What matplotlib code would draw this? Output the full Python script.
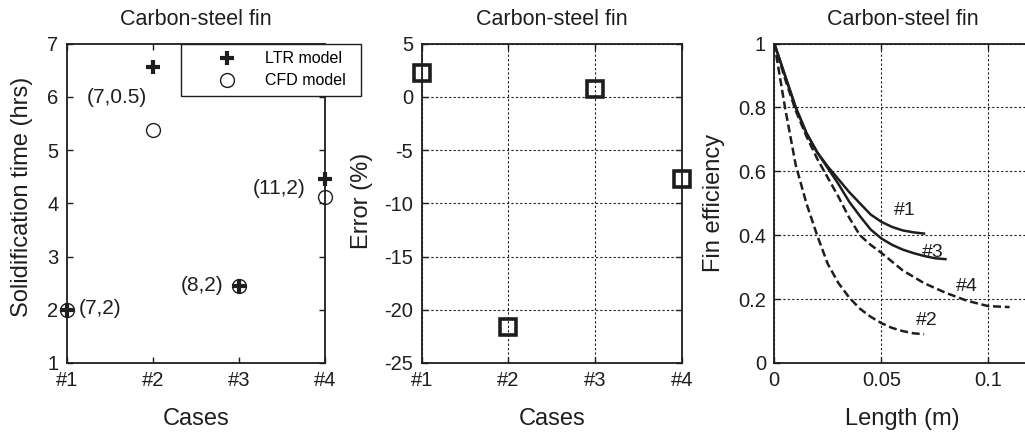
import matplotlib
matplotlib.use('Agg')
import matplotlib.pyplot as plt
from matplotlib.ticker import FormatStrFormatter
import numpy as np

plt.rcParams['font.family'] = ['Liberation Sans', 'DejaVu Sans']
plt.rcParams['axes.unicode_minus'] = False

# Data
cases = [1, 2, 3, 4]
case_labels = ['#1', '#2', '#3', '#4']
ltr_time = [2.0, 6.55, 2.45, 4.45]   # hrs
cfd_time = [2.0, 5.38, 2.45, 4.12]   # hrs
error_pct = [2.2, -21.6, 0.7, -7.7]  # %
case_params = ['(7,2)', '(7,0.5)', '(8,2)', '(11,2)']
param_xy = [(1.39, 2.03), (1.58, 5.99), (2.57, 2.46), (3.47, 4.28)]

# Fin efficiency curves
len1 = [0, 0.005, 0.01, 0.015, 0.02, 0.025, 0.03, 0.035, 0.04, 0.045, 0.05, 0.055, 0.06, 0.065, 0.07]
eff1 = [1.0, 0.90, 0.80, 0.72, 0.66, 0.615, 0.575, 0.535, 0.50, 0.465, 0.442, 0.426, 0.415, 0.409, 0.405]
len2 = [0, 0.005, 0.01, 0.015, 0.02, 0.025, 0.03, 0.035, 0.04, 0.045, 0.05, 0.055, 0.06, 0.065, 0.07]
eff2 = [1.0, 0.80, 0.62, 0.50, 0.40, 0.31, 0.25, 0.205, 0.17, 0.145, 0.125, 0.11, 0.10, 0.093, 0.09]
len3 = [0, 0.005, 0.01, 0.015, 0.02, 0.025, 0.03, 0.035, 0.04, 0.045, 0.05, 0.055, 0.06, 0.065, 0.07, 0.075, 0.08]
eff3 = [1.0, 0.90, 0.80, 0.72, 0.66, 0.61, 0.56, 0.505, 0.46, 0.418, 0.39, 0.37, 0.355, 0.344, 0.335, 0.328, 0.325]
len4 = [0, 0.005, 0.01, 0.015, 0.02, 0.025, 0.03, 0.035, 0.04, 0.045, 0.05, 0.06, 0.07, 0.08, 0.09, 0.1, 0.11]
eff4 = [1.0, 0.89, 0.79, 0.71, 0.64, 0.58, 0.52, 0.455, 0.40, 0.37, 0.345, 0.29, 0.25, 0.22, 0.195, 0.178, 0.175]
curve_labels = ['#1', '#2', '#3', '#4']
curve_label_xy = [(0.061, 0.478), (0.0715, 0.134), (0.0743, 0.347), (0.090, 0.238)]

ink = '#1e1e1e'
W, H = 1025, 434

fig = plt.figure(figsize=(10.25, 4.34), dpi=100)

def px_axes(left, right, top=43.5, bottom=363):
    return fig.add_axes([left / W, (H - bottom) / H, (right - left) / W, (bottom - top) / H])

ax1 = px_axes(66.7, 325)
ax2 = px_axes(421.7, 681.7)
ax3 = px_axes(774.3, 1031)

for ax in (ax1, ax2, ax3):
    ax.tick_params(direction='in', length=4, width=1, labelsize=14.5, colors=ink,
                   top=True, right=True, pad=6)
    for s in ax.spines.values():
        s.set_linewidth(1.3)
        s.set_color(ink)
    ax.set_title('Carbon-steel fin', fontsize=15.5, pad=13, color=ink)

# Panel 1: solidification time
ax1.plot(cases, cfd_time, 'o', ms=10, mfc='none', mec=ink, mew=1.0, clip_on=False,
         label='CFD model', zorder=3)
ax1.plot(cases, ltr_time, '+', ms=10, mec=ink, mew=3, clip_on=False,
         label='LTR model', zorder=4)
for txt, (x, y) in zip(case_params, param_xy):
    ax1.text(x, y, txt, fontsize=15, ha='center', va='center', color=ink)
ax1.set_xlim(1, 4)
ax1.set_ylim(1, 7)
ax1.set_xticks(cases)
ax1.set_xticklabels(case_labels)
ax1.set_yticks(range(1, 8))
ax1.set_xlabel('Cases', fontsize=17, color=ink)
ax1.set_ylabel('Solidification time (hrs)', fontsize=17, color=ink)
ax1.xaxis.set_label_coords(0.5, -0.14)
ax1.yaxis.set_label_coords(-0.130, 0.52)
handles, labels = ax1.get_legend_handles_labels()
leg = ax1.legend(handles[::-1], labels[::-1], loc='upper left',
                 bbox_to_anchor=(181 / W, 1 - 100 / H, 180 / W, 56 / H),
                 bbox_transform=fig.transFigure, mode='expand', borderaxespad=0,
                 fontsize=11.5, numpoints=1, handlelength=4.9, handletextpad=-0.1,
                 borderpad=0.45, labelspacing=0.45, fancybox=False, framealpha=1,
                 edgecolor=ink)
leg.get_frame().set_linewidth(1.0)
leg.set_zorder(10)

# Panel 2: error
ax2.plot(cases, error_pct, 's', ms=11, mfc='none', mec=ink, mew=2.6, clip_on=False, zorder=3)
ax2.set_xlim(1, 4)
ax2.set_ylim(-25, 5)
ax2.set_xticks(cases)
ax2.set_xticklabels(case_labels)
ax2.set_yticks(range(-25, 6, 5))
ax2.grid(True, color=ink, linestyle=(0, (2, 2)), linewidth=0.8)
ax2.set_xlabel('Cases', fontsize=17, color=ink)
ax2.set_ylabel('Error (%)', fontsize=17, color=ink)
ax2.xaxis.set_label_coords(0.5, -0.14)
ax2.yaxis.set_label_coords(-0.187, 0.508)

# Panel 3: fin efficiency
dash = (0, (3.2, 1.5))
ax3.plot(len1, eff1, color=ink, lw=1.8)
ax3.plot(len3, eff3, color=ink, lw=1.8)
ax3.plot(len4, eff4, color=ink, lw=1.8, linestyle=dash)
ax3.plot(len2, eff2, color=ink, lw=1.8, linestyle=dash)
for txt, (x, y) in zip(curve_labels, curve_label_xy):
    ax3.text(x, y, txt, fontsize=14, ha='center', va='center', color=ink)
ax3.set_xlim(0, 0.12)
ax3.set_ylim(0, 1)
ax3.set_xticks([0, 0.05, 0.1])
ax3.set_yticks([0, 0.2, 0.4, 0.6, 0.8, 1.0])
ax3.xaxis.set_major_formatter(FormatStrFormatter('%g'))
ax3.yaxis.set_major_formatter(FormatStrFormatter('%g'))
ax3.grid(True, color=ink, linestyle=(0, (2, 2)), linewidth=0.8)
ax3.set_xlabel('Length (m)', fontsize=17, color=ink)
ax3.set_ylabel('Fin efficiency', fontsize=17, color=ink)
ax3.xaxis.set_label_coords(0.5, -0.14)
ax3.yaxis.set_label_coords(-0.192, 0.502)

fig.savefig('out.png', dpi=100)
